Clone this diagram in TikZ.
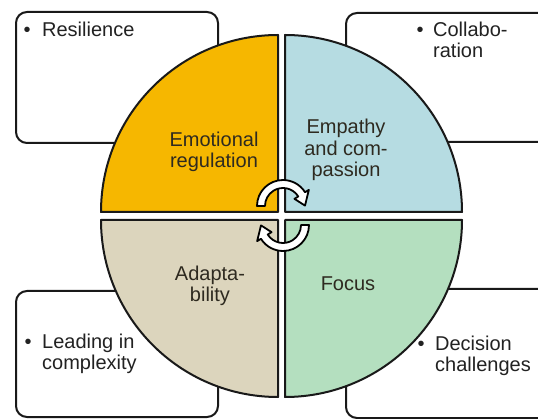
\documentclass[tikz,border=0pt]{standalone}
\usepackage{fontspec}
\setmainfont{Liberation Sans}
\usetikzlibrary{calc}
\definecolor{qorange}{HTML}{F6B700}
\definecolor{qblue}{HTML}{B6DCE2}
\definecolor{qbeige}{HTML}{DCD5BD}
\definecolor{qgreen}{HTML}{B4DFBF}
\definecolor{txt}{HTML}{222222}
\definecolor{qtxt}{HTML}{2E2A20}
\begin{document}
\begin{tikzpicture}[x=1pt,y=-1pt,
  box/.style={draw=black!90, line width=2pt, fill=white, rounded corners=11pt},
  quad/.style={draw=black!90, line width=2pt, line join=round},
  boxtext/.style={inner sep=0pt, anchor=base west, align=left, text=txt, font=\fontsize{20}{21}\selectfont},
  quadtext/.style={inner sep=0pt, anchor=base, align=center, text=qtxt, font=\fontsize{20}{21.5}\selectfont},
  cyc/.style={draw=black, line width=1.8pt, fill=white, line join=round}]
\clip (0,0) rectangle (538,419);
\fill[white] (0,0) rectangle (538,419);
% outer boxes
\draw[box] (16,12) rectangle (218,143);
\draw[box] (346,13) rectangle (570,142);
\draw[box] (16,291) rectangle (218,417);
\draw[box] (346,289) rectangle (570,418);
% quadrants
\coordinate (ctl) at (278,212);
\coordinate (ctr) at (285,212);
\coordinate (cbl) at (278,220);
\coordinate (cbr) at (285,220);
\draw[quad, fill=qorange] (ctl) -- ++(-177,0) arc[start angle=180, end angle=270, radius=177] -- cycle;
\draw[quad, fill=qblue] (ctr) -- ++(0,-177) arc[start angle=270, end angle=360, radius=177] -- cycle;
\draw[quad, fill=qbeige] (cbl) -- ++(0,177) arc[start angle=90, end angle=180, radius=177] -- cycle;
\draw[quad, fill=qgreen] (cbr) -- ++(177,0) arc[start angle=0, end angle=90, radius=177] -- cycle;
% circular arrows
\coordinate (T) at (283,206);
\coordinate (B) at (283,225);
\draw[cyc] ($(T)+(180:26)$) arc[start angle=180, end angle=328, radius=26]
  -- ($(T)+(328:30.5)$) -- ($(T)+(359:22)$) -- ($(T)+(328:13.5)$) -- ($(T)+(328:18)$)
  arc[start angle=328, end angle=180, radius=18] -- cycle;
\draw[cyc] ($(B)+(0:26)$) arc[start angle=0, end angle=148, radius=26]
  -- ($(B)+(148:30.5)$) -- ($(B)+(179:22)$) -- ($(B)+(148:13.5)$) -- ($(B)+(148:18)$)
  arc[start angle=148, end angle=0, radius=18] -- cycle;
% box texts (base anchor = baseline of last line)
\node[boxtext] (res) at (23.5,37) {\makebox[18.5pt][l]{•}Resilience};
\node[boxtext] (col) at (416.5,58) {\makebox[16.5pt][l]{•}Collabo-\\\hspace*{16.5pt}ration};
\node[boxtext] (lea) at (24.5,370) {\makebox[17.5pt][l]{•}Leading in\\\hspace*{17.5pt}complexity};
\node[boxtext] (dec) at (417.5,372) {\makebox[17.5pt][l]{•}Decision\\\hspace*{17.5pt}challenges};
% quadrant labels
\node[quadtext] (emo) at (214,168) {Emotional\\regulation};
\node[quadtext] (emp) at (346,177) {Empathy\\and com-\\passion};
\node[quadtext] (ada) at (210,302) {Adapta-\\bility};
\node[quadtext] (foc) at (348,291) {Focus};
\end{tikzpicture}
\end{document}
